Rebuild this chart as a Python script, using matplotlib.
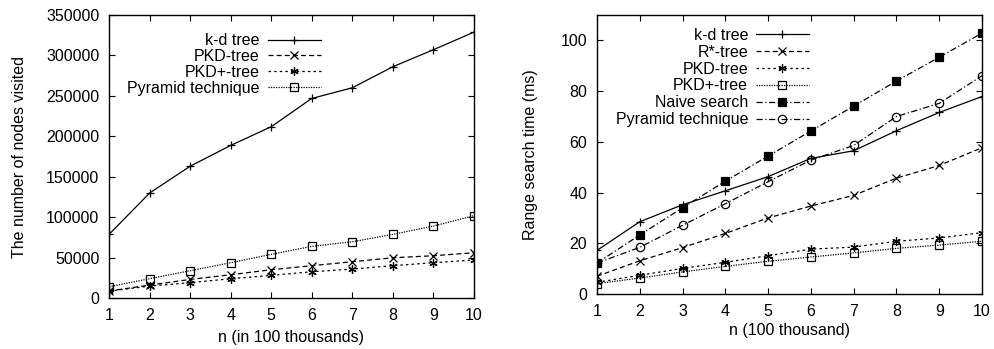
#Recreate the two gnuplot-style panels: nodes visited and range search time
import matplotlib
matplotlib.use('Agg')
import matplotlib.pyplot as plt
import numpy as np

plt.rcParams['font.family'] = ['Liberation Sans', 'DejaVu Sans']
plt.rcParams['font.size'] = 11.5

#Data
n = [1, 2, 3, 4, 5, 6, 7, 8, 9, 10]

#Left panel: number of nodes visited
kd_nodes = [78700, 129800, 163000, 188700, 211800, 246800, 260000, 286000, 307000, 328800]
pkd_nodes = [8700, 16000, 23000, 28800, 35000, 40000, 44900, 49800, 52300, 56000]
pkdp_nodes = [8500, 14800, 19000, 23900, 28000, 32500, 35800, 40000, 43700, 47000]
pyr_nodes = [14000, 23900, 33800, 43700, 54000, 63900, 69600, 78700, 89000, 101800]

#Right panel: range search time (ms)
kd_time = [17.2, 28.5, 35.2, 40.7, 46.3, 53.5, 56.5, 64.4, 71.6, 77.9]
rstar_time = [7.0, 13.1, 18.3, 23.9, 30.0, 34.7, 38.9, 45.7, 50.7, 57.7]
pkd_time = [4.6, 7.4, 10.1, 12.5, 15.1, 17.7, 18.5, 20.8, 22.1, 24.2]
pkdp_time = [4.1, 6.3, 8.7, 10.9, 12.9, 14.6, 16.2, 18.0, 19.3, 20.8]
naive_time = [12.2, 23.3, 34.0, 44.5, 54.4, 64.3, 74.1, 84.0, 93.4, 102.9]
pyr_time = [12.2, 18.4, 27.1, 35.6, 44.3, 52.8, 58.6, 70.0, 75.2, 86.1]

#Line styles (gnuplot look)
solid = '-'
dashed = (0, (4, 2.5))
short_dash = (0, (2, 2.5))
dotted = (0, (1, 1))
dash_dot = (0, (5, 2, 1, 2))
asterisk = (6, 2, 0)

fig = plt.figure(figsize=(9.94, 3.49), dpi=100)
ax1 = fig.add_axes([0.1097, 0.146, 0.367, 0.811])
ax2 = fig.add_axes([0.6006, 0.1576, 0.3873, 0.799])

mk = dict(color='black', lw=0.9, ms=6, mew=0.9)

#Left panel
ax1.plot(n, kd_nodes, linestyle=solid, marker='+', label='k-d tree', **mk)
ax1.plot(n, pkd_nodes, linestyle=dashed, marker='x', label='PKD-tree', **mk)
ax1.plot(n, pkdp_nodes, linestyle=short_dash, marker=asterisk, label='PKD+-tree', **mk)
ax1.plot(n, pyr_nodes, linestyle=dotted, marker='s', mfc='none', label='Pyramid technique', **mk)
ax1.set_xlim(1, 10)
ax1.set_ylim(0, 350000)
ax1.set_yticks(np.arange(0, 350001, 50000))
ax1.set_ylabel('The number of nodes visited', labelpad=14)
ax1.set_xlabel('n (in 100 thousands)', labelpad=5)
ax1.legend(loc='upper right', bbox_to_anchor=(0.58, 0.936), frameon=False,
           markerfirst=False, handlelength=3.3, labelspacing=0.06,
           borderpad=0, borderaxespad=0, handletextpad=0.5)

#Right panel
ax2.plot(n, kd_time, linestyle=solid, marker='+', label='k-d tree', **mk)
ax2.plot(n, rstar_time, linestyle=dashed, marker='x', label='R*-tree', **mk)
ax2.plot(n, pkd_time, linestyle=short_dash, marker=asterisk, label='PKD-tree', **mk)
ax2.plot(n, pkdp_time, linestyle=dotted, marker='s', mfc='none', label='PKD+-tree', **mk)
ax2.plot(n, naive_time, linestyle=dash_dot, marker='s', label='Naive search', **mk)
ax2.plot(n, pyr_time, linestyle=dash_dot, marker='o', mfc='none', label='Pyramid technique', **mk)
ax2.set_xlim(1, 10)
ax2.set_ylim(0, 110)
ax2.set_yticks(np.arange(0, 101, 20))
ax2.set_ylabel('Range search time (ms)', labelpad=16)
ax2.set_xlabel('n (100 thousand)', labelpad=3)
ax2.legend(loc='upper right', bbox_to_anchor=(0.55, 0.955), frameon=False,
           markerfirst=False, handlelength=3.3, labelspacing=0.12,
           borderpad=0, borderaxespad=0, handletextpad=0.5)

for ax in (ax1, ax2):
    ax.set_xticks(n)
    ax.tick_params(direction='in', top=True, right=True, length=4, width=0.8, pad=7)
    for s in ax.spines.values():
        s.set_linewidth(1.0)

fig.savefig('out.png', dpi=100)
